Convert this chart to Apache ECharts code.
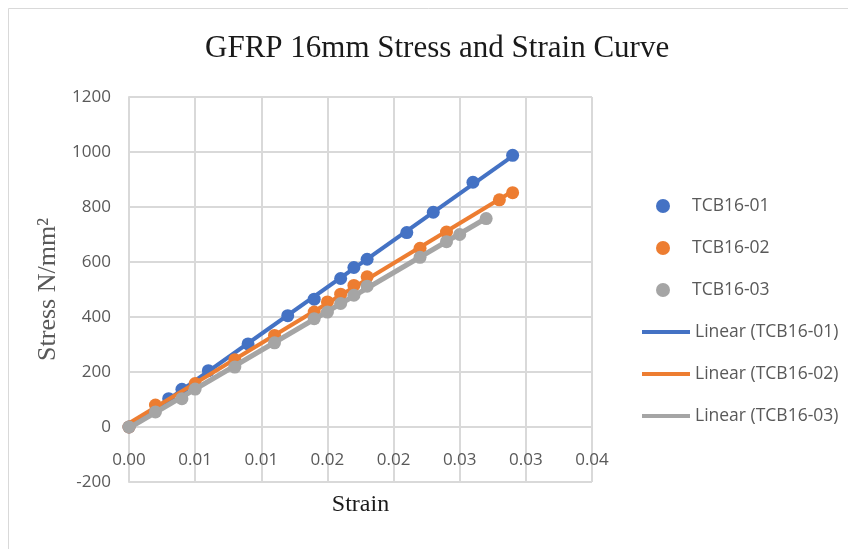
<!DOCTYPE html>
<html>
<head>
<meta charset="utf-8">
<script src="https://cdn.jsdelivr.net/npm/echarts@6/dist/echarts.min.js"></script>
<style>
html,body{margin:0;padding:0;background:#fff;}
#c{width:848px;height:549px;}
</style>
</head>
<body>
<div id="c"></div>
<script>
// Data
var seriesNames = ['TCB16-01', 'TCB16-02', 'TCB16-03'];
var strain01 = [0, 0.003, 0.004, 0.006, 0.009, 0.012, 0.014, 0.016, 0.017, 0.018, 0.021, 0.023, 0.026, 0.029];
var stress01 = [0, 103, 137, 205, 302, 405, 465, 540, 580, 610, 707, 781, 890, 988];
var strain02 = [0, 0.002, 0.005, 0.008, 0.011, 0.014, 0.015, 0.016, 0.017, 0.018, 0.022, 0.024, 0.028, 0.029];
var stress02 = [0, 80, 158, 245, 333, 418, 455, 483, 515, 546, 650, 709, 826, 852];
var strain03 = [0, 0.002, 0.004, 0.005, 0.008, 0.011, 0.014, 0.015, 0.016, 0.017, 0.018, 0.022, 0.024, 0.025, 0.027];
var stress03 = [0, 55, 103, 138, 218, 306, 394, 418, 449, 479, 512, 617, 674, 700, 758];
var xTickLabels = ['0.00', '0.01', '0.01', '0.02', '0.02', '0.03', '0.03', '0.04'];
var yTickLabels = ['-200', '0', '200', '400', '600', '800', '1000', '1200'];

var colors = ['#4472C4', '#ED7D31', '#A5A5A5'];
var xs = [strain01, strain02, strain03];
var ys = [stress01, stress02, stress03];

function pairs(x, y) { return x.map(function (v, i) { return [v, y[i]]; }); }
function trend(x, y) {
  var n = x.length, sx = 0, sy = 0, sxx = 0, sxy = 0;
  for (var i = 0; i < n; i++) { sx += x[i]; sy += y[i]; sxx += x[i] * x[i]; sxy += x[i] * y[i]; }
  var b = (n * sxy - sx * sy) / (n * sxx - sx * sx);
  var a = (sy - b * sx) / n;
  var x0 = Math.min.apply(null, x), x1 = Math.max.apply(null, x);
  return [[x0, a + b * x0], [x1, a + b * x1]];
}

var series = [];
for (var k = 0; k < 3; k++) {
  series.push({
    name: seriesNames[k], type: 'scatter', data: pairs(xs[k], ys[k]),
    symbol: 'circle', symbolSize: 13, itemStyle: { color: colors[k], opacity: 1 }, z: 3 + k * 2
  });
  series.push({
    name: 'Linear (' + seriesNames[k] + ')', type: 'line', data: trend(xs[k], ys[k]),
    symbol: 'none', showSymbol: false, lineStyle: { color: colors[k], width: k === 2 ? 5 : 4, cap: 'butt' },
    itemStyle: { color: colors[k] }, z: 2 + k * 2, silent: true
  });
}

var GRID_H = 385, Y_MIN = -200, Y_MAX = 1200;
var legendText = { fontFamily: 'Open Sans', fontSize: 17.5, color: '#595959', lineHeight: 20 };

var chart = echarts.init(document.getElementById('c'), null, { renderer: 'canvas' });
chart.setOption({
  animation: false,
  backgroundColor: '#fff',
  graphic: [{ type: 'rect', shape: { x: 8.5, y: 8.5, width: 900, height: 600 }, style: { fill: 'none', stroke: '#d9d9d9', lineWidth: 1 }, silent: true }],
  title: {
    text: 'GFRP 16mm Stress and Strain Curve', left: 200, top: 28,
    textStyle: { fontFamily: 'Liberation Serif', fontSize: 31, fontWeight: 'normal', color: '#1a1a1a' }
  },
  legend: [{
    orient: 'vertical', left: 651, top: 191, itemGap: 22, itemWidth: 48, itemHeight: 14,
    data: seriesNames.map(function (n) { return { name: n, icon: 'circle' }; }),
    textStyle: legendText
  }, {
    orient: 'vertical', left: 637, top: 191 + 3 * 42, itemGap: 22, itemWidth: 48, itemHeight: 4,
    data: seriesNames.map(function (n) { return { name: 'Linear (' + n + ')', icon: 'rect' }; }),
    textStyle: legendText
  }],
  grid: { left: 129, top: 97, width: 463, height: GRID_H, containLabel: false, outerBoundsMode: 'none' },
  xAxis: {
    type: 'value', min: 0, max: 0.035, interval: 0.005,
    offset: -GRID_H * (0 - Y_MIN) / (Y_MAX - Y_MIN),
    name: 'Strain', nameLocation: 'middle', nameGap: 66,
    nameTextStyle: { fontFamily: 'Liberation Serif', fontSize: 24, color: '#1a1a1a' },
    axisLine: { onZero: false, lineStyle: { color: '#d9d9d9', width: 2 } },
    axisTick: { show: false },
    axisLabel: {
      margin: 25, fontFamily: 'Open Sans', fontSize: 17, color: '#595959',
      formatter: function (v) { return xTickLabels[Math.round(v / 0.005)]; }
    },
    splitLine: { show: true, lineStyle: { color: '#d9d9d9', width: 2 } }
  },
  yAxis: {
    type: 'value', min: Y_MIN, max: Y_MAX, interval: 200,
    name: 'Stress N/mm²', nameLocation: 'middle', nameGap: 61,
    nameTextStyle: { fontFamily: 'Liberation Serif', fontSize: 26, color: '#595959' },
    axisLine: { show: true, onZero: false, lineStyle: { color: '#d9d9d9', width: 2 } },
    axisTick: { show: false },
    axisLabel: {
      margin: 18, fontFamily: 'Open Sans', fontSize: 17, color: '#595959',
      formatter: function (v) { return yTickLabels[Math.round((v - Y_MIN) / 200)]; }
    },
    splitLine: { show: true, lineStyle: { color: '#d9d9d9', width: 2 } }
  },
  series: series
});
</script>
</body>
</html>
